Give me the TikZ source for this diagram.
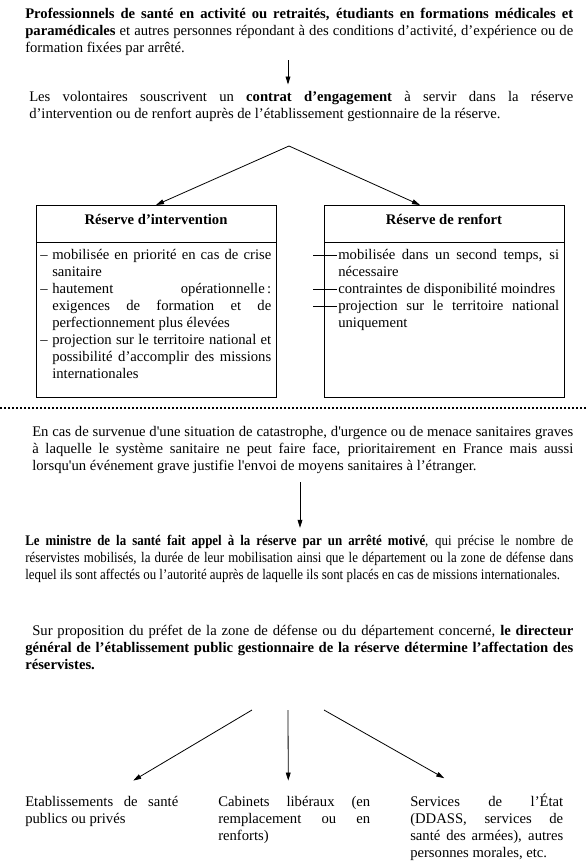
\documentclass[tikz,border=0pt]{standalone}
\usepackage{fontspec}
\setmainfont{Liberation Serif}[Ligatures=TeXOff]
\newfontfamily\narrowserif{Liberation Serif}[Ligatures=TeXOff, FakeStretch=0.88]
\usetikzlibrary{positioning, calc, arrows.meta}

% list items of the two boxes
\newcommand{\itemtiret}{\hangindent=9pt\makebox[9pt][l]{–}}
\newcommand{\itemtrait}{\noindent\llap{\rule[0.28em]{18pt}{0.6pt}\hspace{0.75pt}}}

\begin{document}
\begin{tikzpicture}[x=0.75pt, y=-0.75pt,
        para/.style={anchor=base west, inner sep=0pt, align=justify, font=\fontsize{11}{12.75}\selectfont},
        hdr/.style={draw, line width=0.75pt, outer sep=0pt, minimum width=180pt, minimum height=27.75pt, text height=8pt, text depth=6pt, font=\fontsize{11}{12.75}\selectfont\bfseries},
        bodybox/.style={draw, line width=0.75pt, outer sep=0pt, minimum width=180pt, minimum height=116.25pt},
        arrow/.style={->, >={Stealth[length=6pt, width=3.6pt, inset=0pt]}, line width=0.6pt},
        sep/.style={line width=1.5pt, dash pattern=on 1.5pt off 1.5pt}
    ]
    \useasboundingbox (0,0) rectangle (588,865);

    % Volontaires
    \node[para, text width=411pt] (recrut) at (25,18.5) {\textbf{Professionnels de santé en activité ou retraités, étudiants en formations médicales et\linebreak paramédicales} et autres personnes répondant à des conditions d’activité, d’expérience ou de\linebreak formation fixées par arrêté.};
    \coordinate (stem1) at (288,60);
    \node[para, text width=408pt] (contrat) at (29,101.5) {Les volontaires souscrivent un \textbf{contrat d’engagement} à servir dans la réserve\linebreak d’intervention ou de renfort auprès de l’établissement gestionnaire de la réserve.};
    \draw[arrow, shorten >=4.9pt] (stem1) -- (stem1 |- contrat.north);

    % Les deux reserves
    \node[hdr] (interv) at (156,223.5) {Réserve d’intervention};
    \node[bodybox, below=0pt of interv] (intervbody) {};
    \node[hdr] (renfort) at (444,223.5) {Réserve de renfort};
    \node[bodybox, below=0pt of renfort] (renfortbody) {};

    \coordinate (fork) at (289,146);
    \draw[arrow] (fork) -- (interv.north);
    \draw[arrow] (fork) -- ([xshift=-18pt]renfort.north);

    \node[para, text width=173.25pt] (intervlist) at (40,259.5) {%
        \itemtiret mobilisée en priorité en cas de crise\linebreak sanitaire\par
        \itemtiret hautement opérationnelle\,:\linebreak exigences de formation et de\linebreak perfectionnement plus élevées\par
        \itemtiret projection sur le territoire national et\linebreak possibilité d’accomplir des missions\linebreak internationales\par};
    \node[para, text width=165.75pt] (renfortlist) at (338,259.5) {%
        \itemtrait mobilisée dans un second temps, si\linebreak nécessaire\par
        \itemtrait contraintes de disponibilité moindres\par
        \itemtrait projection sur le territoire national\linebreak uniquement\par};

    % Separation
    \coordinate (sepl) at (0,408);
    \coordinate (sepr) at (588,408);
    \draw[sep] (sepl) -- (sepr);

    % Mobilisation
    \node[para, text width=405.75pt] (crise) at (32,436.5) {En cas de survenue d'une situation de catastrophe, d'urgence ou de menace sanitaires graves\linebreak à laquelle le système sanitaire ne peut faire face, prioritairement en France mais aussi\linebreak lorsqu'un événement grave justifie l'envoi de moyens sanitaires à l’étranger.};
    \coordinate (stem2) at (300,482);
    \node[para, text width=411pt] (ministre) at (25,545.5) {\narrowserif\textbf{Le ministre de la santé fait appel à la réserve par un arrêté motivé}, qui précise le nombre de\linebreak réservistes mobilisés, la durée de leur mobilisation ainsi que le département ou la zone de défense dans\linebreak lequel ils sont affectés ou l’autorité auprès de laquelle ils sont placés en cas de missions internationales.};
    \draw[arrow, shorten >=5.3pt] (stem2) -- (stem2 |- ministre.north);

    % Affectation
    \node[para, text width=411pt] (directeur) at (25,635.5) {\hspace*{5.25pt}Sur proposition du préfet de la zone de défense ou du département concerné, \textbf{le directeur\linebreak général de l’établissement public gestionnaire de la réserve détermine l’affectation des\linebreak réservistes.}};

    \coordinate (fanl) at (252,710);
    \coordinate (fanm) at (288,710);
    \coordinate (fanr) at (324,710);
    \node[para, text width=114.75pt] (etab) at (25,806.5) {Etablissements de santé\linebreak publics ou privés};
    \node[para, text width=114pt] (cabinet) at (218,806.5) {Cabinets libéraux (en\linebreak remplacement ou en\linebreak renforts)};
    \node[para, text width=114.75pt] (services) at (410,806.5) {Services de l’État\linebreak (DDASS, services de\linebreak santé des armées), autres\linebreak personnes morales, etc.};

    \draw[arrow] (fanl) -- ([xshift=23.6pt, yshift=11.6pt]etab.north);
    \draw[arrow] (fanm) -- ([xshift=-4.5pt, yshift=11.6pt]cabinet.north);
    \draw[arrow] (fanr) -- ([xshift=-31.9pt, yshift=11.6pt]services.north);

\end{tikzpicture}
\end{document}
